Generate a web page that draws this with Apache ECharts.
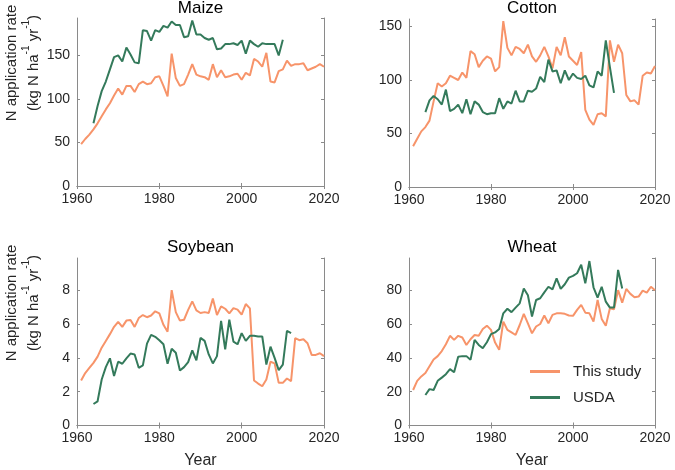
<!DOCTYPE html>
<html>
<head>
<meta charset="utf-8">
<script src="https://cdn.jsdelivr.net/npm/echarts@6/dist/echarts.min.js"></script>
<style>html,body{margin:0;padding:0;background:#fff;}#chart{width:675px;height:470px;}</style>
</head>
<body>
<div id="chart"></div>
<script>
// ---- Data ----
const panelTitles = ['Maize', 'Cotton', 'Soybean', 'Wheat'];
const seriesNames = ['This study', 'USDA'];
const xTicks = [1960, 1980, 2000, 2020];

const studyStart = 1961;   // "This study" series start year (to 2020)
const usdaStart = 1964;    // USDA series start year

const maizeStudy = [48,54,59,65,72,80,88,95,104,112,
  105,115,115,108,117,120,117,118,125,126,
  115,103,152,124,115,117,128,140,128,126,
  125,122,140,125,133,125,126,128,129,122,
  130,127,146,143,137,153,120,119,132,134,
  144,138,140,140,141,133,135,137,140,137];
const maizeUSDA = [72,92,109,120,134,148,150,143,159,151,
  142,141,179,178,167,179,177,184,182,189,
  185,185,171,172,190,174,174,170,168,170,
  157,158,163,163,164,162,167,152,167,163,
  160,164,163,163,163,150,168];

const cottonStudy = [38,45,52,56,62,80,97,94,97,104,
  102,100,107,102,127,124,112,118,122,120,
  108,112,155,130,123,131,129,125,133,122,
  117,123,131,122,111,131,123,140,122,118,
  114,126,72,63,58,68,69,66,137,117,
  133,125,86,80,81,77,104,107,106,113];
const cottonUSDA = [70,81,85,82,77,91,71,73,77,69,
  82,68,80,77,70,68,69,69,83,73,
  80,78,90,80,80,90,89,92,103,98,
  119,108,109,97,109,100,106,102,101,104,
  95,93,108,104,137,112,88];

const soyStudy = [2.66,3.1,3.4,3.7,4.07,4.6,5.0,5.4,5.83,6.13,
  5.83,6.2,6.23,5.83,6.35,6.53,6.4,6.5,6.75,6.63,
  5.95,5.54,8.0,6.7,6.2,6.25,6.83,7.34,6.8,6.65,
  6.7,6.65,7.5,6.53,7.04,6.9,6.63,6.94,6.85,6.55,
  7.18,6.92,2.66,2.48,2.32,2.72,3.77,3.67,2.52,2.52,
  2.78,2.62,5.16,5.04,5.1,4.86,4.17,4.17,4.27,4.1];
const soyUSDA = [1.27,1.43,2.72,3.45,3.97,2.92,3.77,3.65,3.97,4.25,
  4.2,3.41,3.55,4.84,5.36,5.24,5.04,4.8,3.65,4.54,
  4.3,3.25,3.45,3.75,4.44,3.85,5.18,5.0,4.2,3.67,
  4.1,6.19,4.5,6.25,4.96,4.8,5.46,5.0,5.3,5.3,
  5.26,5.26,3.6,4.66,4.0,3.27,3.6,5.6,5.46];

const wheatStudy = [21,26.4,29,31,35,39,41,44,48,53,
  50.6,53,52,47.6,51,53.5,53,57,59,56.5,
  49,44.7,61.4,56.5,55,53.5,59.4,66,60.4,54.5,
  58.5,60,65,60.4,65.4,66.3,66.3,66,65,64.8,
  68.3,71.3,66.7,66.3,61.4,74.2,63,59,69.3,68.7,
  80,72.6,80.7,77.8,75.8,76.2,79.7,78.5,82,80];
const wheatUSDA = [18,21.5,21,26.4,28.3,30.3,33.3,31.5,40.7,41,
  41,38.8,50.6,47.6,45.7,49.2,54,55,57,66.3,
  69,67,69.7,72.2,81,77,64.4,74.2,75.2,78.7,
  82,80.5,87,80.7,83.5,87.4,88.4,90,95,84,
  97.2,81.7,75.6,82,73.2,69.7,69.7,92,81];

const yMax = [193, 157, 9.9, 99];
const yInterval = [50, 50, 2, 20];

// ---- Styling / layout ----
const ORANGE = '#F7946A';
const GREEN = '#347A5B';
const AXIS = '#8a8a8a';
const TXT = '#262626';
const FONT = '"Liberation Sans", Arial, Helvetica, sans-serif';

const grids = [
  {left: 77, top: 18, width: 247, height: 168},
  {left: 409, top: 19, width: 246, height: 168},
  {left: 77, top: 258, width: 247, height: 167.5},
  {left: 409, top: 258, width: 246, height: 167.5}
];

const studyData = [maizeStudy, cottonStudy, soyStudy, wheatStudy];
const usdaData = [maizeUSDA, cottonUSDA, soyUSDA, wheatUSDA];

function pairs(start, vals) { return vals.map((v, i) => [start + i, v]); }

const xAxes = [], yAxes = [], series = [];
grids.forEach((g, i) => {
  const common = {
    gridIndex: i, type: 'value', min: xTicks[0], max: xTicks[xTicks.length - 1],
    interval: xTicks[1] - xTicks[0],
    axisLine: {show: true, lineStyle: {color: AXIS, width: 1}},
    axisTick: {show: true, inside: true, length: 3, lineStyle: {color: AXIS}},
    splitLine: {show: false}
  };
  xAxes.push(Object.assign({}, common, {
    position: 'bottom',
    axisLabel: {show: true, color: TXT, fontSize: 14, fontFamily: FONT, margin: 6,
      formatter: v => String(v)}
  }));
  xAxes.push(Object.assign({}, common, {position: 'top', axisLabel: {show: false}}));
  const yc = {
    gridIndex: i, type: 'value', min: 0, max: yMax[i], interval: yInterval[i],
    axisLine: {show: true, lineStyle: {color: AXIS, width: 1}},
    axisTick: {show: true, inside: true, length: 3, lineStyle: {color: AXIS}},
    splitLine: {show: false}
  };
  const iv = yInterval[i];
  yAxes.push(Object.assign({}, yc, {
    position: 'left',
    axisLabel: {show: true, color: TXT, fontSize: 14, fontFamily: FONT, margin: 7, showMaxLabel: false,
      formatter: v => (Math.abs(v / iv - Math.round(v / iv)) < 1e-6 ? String(v) : '')}
  }));
  yAxes.push(Object.assign({}, yc, {position: 'right', axisLabel: {show: false}}));

  series.push({
    name: seriesNames[0], type: 'line', xAxisIndex: 2 * i, yAxisIndex: 2 * i,
    data: pairs(studyStart, studyData[i]), showSymbol: false, symbol: 'none',
    lineStyle: {color: ORANGE, width: 2}, itemStyle: {color: ORANGE}, z: 2
  });
  series.push({
    name: seriesNames[1], type: 'line', xAxisIndex: 2 * i, yAxisIndex: 2 * i,
    data: pairs(usdaStart, usdaData[i]), showSymbol: false, symbol: 'none',
    lineStyle: {color: GREEN, width: 2}, itemStyle: {color: GREEN}, z: 3
  });
});

const titleY = [8, 8, 247, 247];
const graphic = [];
grids.forEach((g, i) => {
  graphic.push({type: 'text', x: g.left + g.width / 2, y: titleY[i],
    style: {text: panelTitles[i], fontSize: 17, fontFamily: FONT, fill: '#000',
      align: 'center', verticalAlign: 'middle'}});
});
[200.5, 532].forEach(cx => {
  graphic.push({type: 'text', x: cx, y: 461,
    style: {text: 'Year', fontSize: 16, fontFamily: FONT, fill: TXT, align: 'center', verticalAlign: 'middle'}});
});
[63, 303].forEach(cy => {
  graphic.push({type: 'text', x: 12, y: cy, rotation: Math.PI / 2,
    style: {text: 'N application rate', fontSize: 15, fontFamily: FONT, fill: TXT,
      align: 'center', verticalAlign: 'middle'}});
  graphic.push({type: 'text', x: 31, y: cy, rotation: Math.PI / 2,
    style: {text: '{a|(kg N ha}{s|-1}{a| yr}{s|-1}{a|)}', fontFamily: FONT, fill: TXT,
      align: 'center', verticalAlign: 'middle',
      rich: {
        a: {fontSize: 15, fontFamily: FONT, fill: TXT, lineHeight: 20, verticalAlign: 'bottom'},
        s: {fontSize: 10, fontFamily: FONT, fill: TXT, lineHeight: 14, verticalAlign: 'top'}
      }}});
});

const chart = echarts.init(document.getElementById('chart'), null, {renderer: 'canvas'});
chart.setOption({
  animation: false,
  backgroundColor: '#fff',
  grid: grids.map(g => Object.assign({containLabel: false}, g)),
  xAxis: xAxes,
  yAxis: yAxes,
  legend: {
    data: seriesNames, orient: 'vertical', left: 525, top: 359,
    icon: 'rect', itemWidth: 30, itemHeight: 3, itemGap: 11,
    textStyle: {fontSize: 15, fontFamily: FONT, color: TXT, padding: [0, 0, 0, 8]},
    selectedMode: false
  },
  series: series,
  graphic: graphic
});
</script>
</body>
</html>
